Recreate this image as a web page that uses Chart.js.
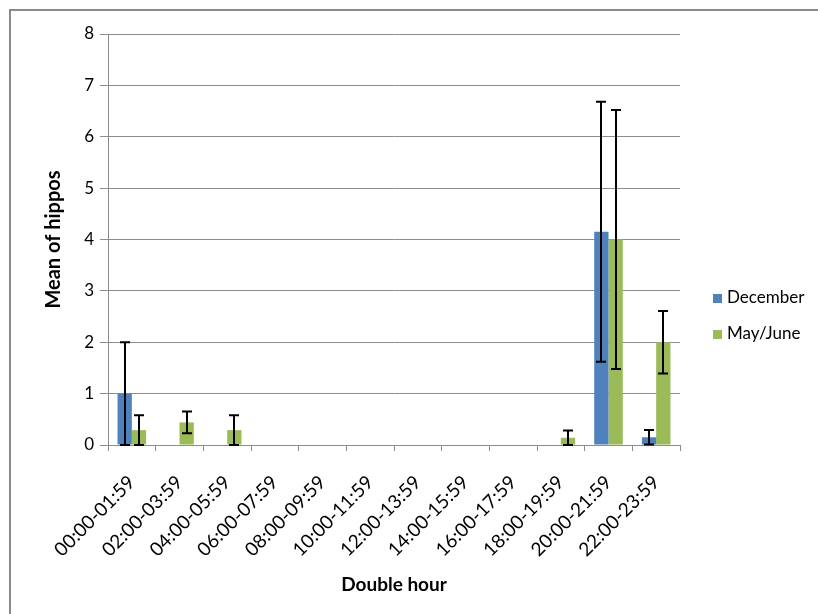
<!DOCTYPE html>
<html>
<head>
<meta charset="utf-8">
<script src="https://cdn.jsdelivr.net/npm/chart.js@4/dist/chart.umd.min.js"></script>
<style>
html,body{margin:0;padding:0;background:#fff;}
#wrap{width:818px;height:614px;position:relative;}
</style>
</head>
<body>
<div id="wrap"><canvas id="c" width="818" height="614"></canvas></div>
<script>
const categories = ["00:00-01:59","02:00-03:59","04:00-05:59","06:00-07:59","08:00-09:59","10:00-11:59","12:00-13:59","14:00-15:59","16:00-17:59","18:00-19:59","20:00-21:59","22:00-23:59"];
const decemberMeans = [1.0, 0, 0, 0, 0, 0, 0, 0, 0, 0, 4.15, 0.15];
const decemberErr   = [1.0, 0, 0, 0, 0, 0, 0, 0, 0, 0, 2.53, 0.14];
const mayJuneMeans  = [0.29, 0.44, 0.29, 0, 0, 0, 0, 0, 0, 0.14, 4.0, 2.0];
const mayJuneErr    = [0.29, 0.21, 0.29, 0, 0, 0, 0, 0, 0, 0.14, 2.52, 0.61];
const yTicks = [0,1,2,3,4,5,6,7,8];

const FONT = "Lato, 'Open Sans', sans-serif";
const GRID = "#8c8c8c";

const errorBars = {
  id: 'errorBars',
  afterDatasetsDraw(chart) {
    const ctx = chart.ctx;
    const y = chart.scales.y;
    ctx.save();
    ctx.strokeStyle = '#000';
    ctx.lineWidth = 2;
    chart.data.datasets.forEach((ds, di) => {
      const meta = chart.getDatasetMeta(di);
      meta.data.forEach((bar, i) => {
        const e = ds.errors[i];
        const v = ds.data[i];
        if (!e) return;
        const top = y.getPixelForValue(v + e);
        const bot = y.getPixelForValue(Math.max(0, v - e));
        const x = Math.round(bar.x);
        const cap = 5;
        ctx.beginPath();
        ctx.moveTo(x, top); ctx.lineTo(x, bot);
        ctx.moveTo(x - cap, top); ctx.lineTo(x + cap, top);
        ctx.moveTo(x - cap, bot); ctx.lineTo(x + cap, bot);
        ctx.stroke();
      });
    });
    ctx.restore();
  }
};

const frameAndLegend = {
  id: 'frameAndLegend',
  beforeDraw(chart) {
    const ctx = chart.ctx;
    ctx.save();
    ctx.fillStyle = '#fff';
    ctx.fillRect(0, 0, chart.width, chart.height);
    ctx.strokeStyle = '#8a8a8a';
    ctx.lineWidth = 2;
    ctx.strokeRect(10, 10, chart.width + 20, chart.height + 20);
    ctx.restore();
  },
  afterDraw(chart) {
    const ctx = chart.ctx;
    ctx.save();
    ctx.font = "17px " + FONT;
    ctx.textBaseline = 'middle';
    ctx.textAlign = 'left';
    const ys = [298, 334];
    chart.data.datasets.forEach((ds, i) => {
      ctx.fillStyle = ds.backgroundColor;
      ctx.fillRect(713, ys[i] - 4, 9, 9);
      ctx.fillStyle = '#000';
      ctx.fillText(ds.label, 727, ys[i]);
    });
    ctx.restore();
  }
};

new Chart(document.getElementById('c'), {
  type: 'bar',
  data: {
    labels: categories,
    datasets: [
      { label: 'December', data: decemberMeans, errors: decemberErr, backgroundColor: '#4F81BD', barPercentage: 1.0, categoryPercentage: 0.6 },
      { label: 'May/June', data: mayJuneMeans, errors: mayJuneErr, backgroundColor: '#9BBB59', barPercentage: 1.0, categoryPercentage: 0.6 }
    ]
  },
  options: {
    responsive: false,
    animation: false,
    devicePixelRatio: 1,
    layout: { padding: { left: 30, right: 138, top: 34, bottom: 18 } },
    plugins: { legend: { display: false }, tooltip: { enabled: false } },
    scales: {
      x: {
        afterFit(s) { s.height = 151; },
        grid: { drawOnChartArea: false, drawTicks: true, tickLength: 6, color: GRID, offset: true },
        border: { color: GRID, width: 1 },
        ticks: { color: '#000', font: { family: FONT, size: 19 }, maxRotation: 45, minRotation: 45, padding: 20, autoSkip: false },
        title: { display: true, text: 'Double hour', color: '#000', font: { family: FONT, size: 19, weight: 'bold' }, padding: { top: 0, bottom: 0 } }
      },
      y: {
        min: 0, max: 8,
        afterFit(s) { s.width = 78; },
        afterBuildTicks(s) { s.ticks = yTicks.map(v => ({ value: v })); },
        grid: { color: GRID, tickLength: 8, drawTicks: true },
        border: { color: GRID, width: 1 },
        ticks: { color: '#000', font: { family: FONT, size: 17 }, padding: 6 },
        title: { display: true, text: 'Mean of hippos', color: '#000', font: { family: FONT, size: 20, weight: 'bold' }, padding: { top: 12, bottom: 0 } }
      }
    }
  },
  plugins: [errorBars, frameAndLegend]
});
</script>
</body>
</html>
